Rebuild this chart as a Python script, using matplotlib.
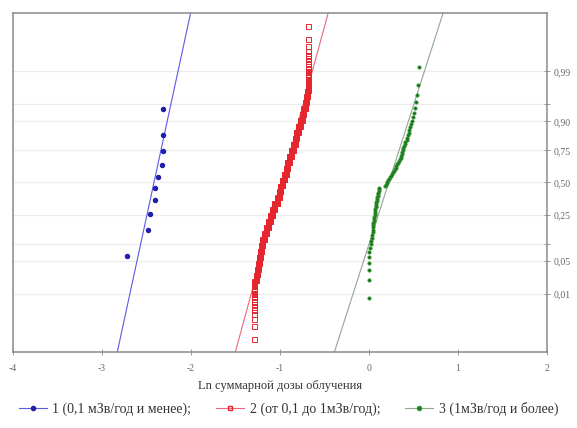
import matplotlib
matplotlib.use("Agg")
import matplotlib.pyplot as plt
from statistics import NormalDist

# group 1 (0,1 mSv/year and less), sorted values
blue_vals = [-2.716, -2.480, -2.461, -2.400, -2.400, -2.374, -2.329, -2.311, -2.311, -2.311]

# group 2, sorted distinct values and how many times each occurs
red_vals = [-1.290, -1.270, -1.258, -1.246, -1.237, -1.227, -1.213, -1.198, -1.180,
            -1.159, -1.137, -1.113, -1.090, -1.065, -1.039, -1.016, -0.996, -0.976,
            -0.956, -0.936, -0.917, -0.896, -0.875, -0.854, -0.835, -0.815, -0.796,
            -0.776, -0.757, -0.738, -0.721, -0.704, -0.694, -0.690, -0.685]
red_counts = [24, 8, 10, 13, 16, 19, 23, 27, 32, 36, 41, 45, 49, 53, 56, 58, 59, 60,
              59, 58, 56, 53, 49, 45, 41, 36, 32, 27, 23, 19, 16, 13, 10, 8, 24]

# group 3 (1 mSv/year and more), sorted values
green_vals = [0.000, 0.000, 0.000, 0.000, 0.000, 0.000, 0.010, 0.020, 0.028, 0.035,
              0.037, 0.040, 0.042, 0.044, 0.046, 0.050, 0.053, 0.056, 0.060, 0.064,
              0.067, 0.070, 0.073, 0.076, 0.078, 0.081, 0.084, 0.088, 0.091, 0.095,
              0.098, 0.101, 0.104, 0.107, 0.112, 0.118, 0.180, 0.190, 0.197, 0.205,
              0.215, 0.225, 0.237, 0.248, 0.258, 0.268, 0.278, 0.288, 0.298, 0.308,
              0.318, 0.328, 0.340, 0.348, 0.355, 0.362, 0.367, 0.373, 0.380, 0.385,
              0.392, 0.400, 0.405, 0.425, 0.432, 0.438, 0.445, 0.452, 0.460, 0.468,
              0.480, 0.492, 0.505, 0.522, 0.532, 0.540, 0.552, 0.562]

# fitted normal lines (mean, sd) for groups 1, 2, 3
fit_mean = [-2.416, -0.980, 0.222]
fit_sd = [0.116, 0.147, 0.172]

prob_ticks = [0.01, 0.05, 0.10, 0.25, 0.50, 0.75, 0.90, 0.95, 0.99]
prob_labels = ["0,01", "0,05", "", "0,25", "0,50", "0,75", "0,90", "", "0,99"]
x_ticks = [-4, -3, -2, -1, 0, 1, 2]

legend_labels = ["1 (0,1 мЗв/год и менее);", "2 (от 0,1 до 1мЗв/год);",
                 "3 (1мЗв/год и более)"]
x_title = "Ln суммарной дозы облучения"

nd = NormalDist()


def expected_normal(n):
    return [nd.inv_cdf((i + 1 - 0.375) / (n + 0.25)) for i in range(n)]


def main():
    plt.rcParams['font.family'] = ['Liberation Serif', 'DejaVu Serif']
    plt.rcParams['axes.unicode_minus'] = False

    fig = plt.figure(figsize=(5.77, 4.28), dpi=100)
    ax = fig.add_axes([0.0225, 0.1776, 0.9255, 0.792])

    ylo, yhi = -3.55, 3.55

    red_all = []
    for v, c in zip(red_vals, red_counts):
        red_all += [v] * c

    groups = [blue_vals, red_all, green_vals]
    line_cols = ['#5a5ae6', '#e8687a', '#8fa88f']
    handles = []

    for k, vals in enumerate(groups):
        z = expected_normal(len(vals))
        xs = [fit_mean[k] + fit_sd[k] * ylo, fit_mean[k] + fit_sd[k] * yhi]
        ax.plot(xs, [ylo, yhi], '-', color=line_cols[k], lw=0.8, zorder=2)
        if k == 0:
            h, = ax.plot(vals, z, 'o', ms=2.9, color='#1f1fa8', mec='#1f1fa8',
                         zorder=3)
        elif k == 1:
            h, = ax.plot(vals, z, 's', ms=3.6, mfc='none', mec='#e5262e',
                         mew=0.7, zorder=3)
        else:
            h, = ax.plot(vals, z, 'o', ms=2.4, color='#1d6e1d', mec='#2f9a2f',
                         mew=0.5, zorder=3)
        handles.append(h)

    ax.set_xlim(-4, 2)
    ax.set_ylim(ylo, yhi)

    ax.set_xticks(x_ticks)
    ax.set_xticklabels([str(t) for t in x_ticks])
    zt = [nd.inv_cdf(p) for p in prob_ticks]
    ax.yaxis.tick_right()
    ax.set_yticks(zt)
    ax.set_yticklabels(prob_labels)

    ax.grid(axis='y', color='#ececec', lw=0.9, zorder=0)
    ax.set_axisbelow(True)
    ax.tick_params(axis='both', direction='inout', length=4, width=0.7,
                   colors='#999999', labelcolor='#666666', labelsize=7)
    ax.tick_params(axis='x', pad=7)
    ax.tick_params(axis='y', pad=3)
    for s in ax.spines.values():
        s.set_color('#8a8a8a')
        s.set_linewidth(1.1)

    ax.set_xlabel(x_title, fontsize=9, color='#333333', labelpad=5)

    leg_handles = []
    for k, h in enumerate(handles):
        lh, = ax.plot([], [], '-', color=line_cols[k], lw=0.8,
                      marker=h.get_marker(), ms=3, mfc=h.get_mfc(),
                      mec=h.get_mec())
        leg_handles.append(lh)
    fig.legend(leg_handles, legend_labels, loc='center', ncol=3,
               bbox_to_anchor=(0.5, 0.045), frameon=False, fontsize=10,
               handlelength=2.0, handletextpad=0.4, columnspacing=1.8,
               labelcolor='#333333')

    fig.savefig('out.png', dpi=100)


if __name__ == '__main__':
    main()
